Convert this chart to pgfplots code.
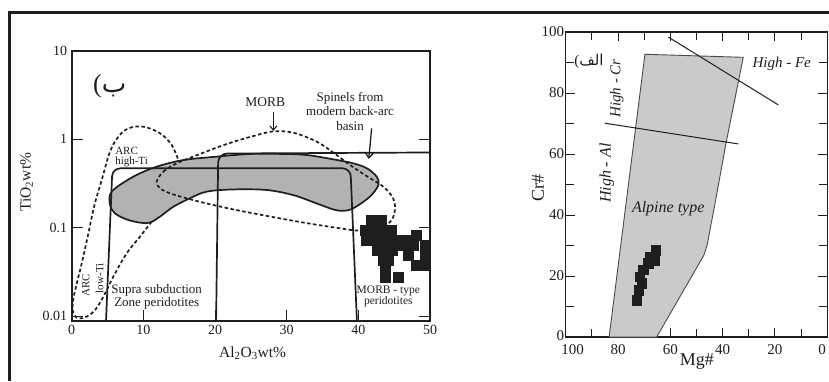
\documentclass[border=0pt]{standalone}
\usepackage{pgfplots}
\pgfplotsset{compat=1.18}
\usepackage{fontspec}
\setmainfont{Liberation Serif}
\newfontfamily\arabicfont[Script=Arabic]{DejaVu Sans}
\usetikzlibrary{arrows.meta}
\TeXXeTstate=1
\definecolor{lgray}{RGB}{178,178,178}
\definecolor{rgray}{RGB}{202,202,202}
\definecolor{ink}{RGB}{30,30,30}
\newcommand{\fs}[2]{\fontsize{#1}{#2}\selectfont}
\begin{document}
\begin{tikzpicture}[x=1pt,y=1pt]
\path[use as bounding box] (0,0) rectangle (829,381);
\draw[ink, line width=3pt] (8,368) -- (829,368);
\draw[ink, line width=3pt] (9.5,369.5) -- (9.5,0);

% ---------------- left panel ----------------
\begin{axis}[
  at={(71.7pt,60.3pt)}, anchor=south west, scale only axis,
  width=358.3pt, height=269.7pt,
  ymode=log, xmin=0, xmax=50, ymin=0.00885, ymax=10,
  xtick={0,10,...,50}, ytick={0.01,0.1,1,10}, yticklabels={0.01,0.1,1,10},
  yminorticks=false, xtick pos=left,
  tick align=inside, major tick length=11pt,
  axis line style={ink, line width=1.8pt},
  tick style={ink, line width=1pt},
  /pgf/number format/assume math mode=true,
  tick label style={font=\fs{14}{14}, text=ink},
  yticklabel style={xshift=-1pt},
  xticklabel style={yshift=-1pt},
  xlabel={Al\textsubscript{2}O\textsubscript{3}wt\%},
  ylabel={TiO\textsubscript{2}wt\%},
  xlabel style={at={(axis description cs:0.505,-0.12)}, anchor=center, font=\fs{15.5}{15.5}, text=ink},
  ylabel style={at={(axis description cs:-0.1256,0.514)}, anchor=center, font=\fs{15.5}{15.5}, text=ink},
  clip=true,
]
% grey field
\addplot[fill=lgray, draw=ink, line width=1.7pt, smooth cycle, tension=0.55] coordinates {
(5.58,0.256)(8.6,0.378)(11.86,0.49)(15.58,0.583)(20.23,0.637)(24.9,0.683)(29.5,0.683)
(32.8,0.665)(36.5,0.594)(39.3,0.535)(41.2,0.47)(42.56,0.378)(42.8,0.304)(41.6,0.224)
(39.3,0.166)(37.9,0.155)(36.5,0.161)(34.2,0.188)(30.9,0.234)(27.2,0.267)(22.6,0.271)
(18.84,0.256)(16.5,0.215)(14.2,0.173)(12.3,0.133)(10.9,0.114)(9.53,0.114)(7.67,0.124)
(6.05,0.145)(5.35,0.181)
};
% supra-subduction field box
\addplot[ink, line width=1.7pt, rounded corners=8pt] coordinates {
(4.79,0.00885)(5.68,0.47)(38.9,0.47)(39.8,0.00885)};
% second box (top line to the right edge)
\addplot[ink, line width=1.7pt, rounded corners=9pt] coordinates {
(20.15,0.00885)(20.45,0.69)(35,0.70)(50,0.71)};
% ARC field (dashed)
\addplot[ink, line width=1.7pt, dash pattern=on 3.5pt off 2.5pt, smooth, tension=0.6] coordinates {
(11.16,0.117)(9.53,0.0791)(7.67,0.0512)(5.81,0.0279)(4.42,0.01656)(3.26,0.0117)
(2.09,0.00983)(1.07,0.00941)(0.33,0.01026)(0.14,0.0139)(0.6,0.0215)(1.40,0.0394)
(2.33,0.0863)(3.12,0.173)(4.19,0.347)(5.35,0.725)(6.51,1.07)(7.91,1.33)(10.0,1.39)
(12.33,1.17)(13.95,0.863)(14.88,0.583)};
% MORB field (dashed)
\addplot[ink, line width=1.7pt, dash pattern=on 3.5pt off 2.5pt, smooth cycle, tension=0.55] coordinates {
(11.86,0.332)(12.79,0.431)(14.65,0.535)(17.91,0.683)(21.63,0.885)(25.35,1.09)(28.14,1.23)
(30.93,1.19)(34.19,0.942)(36.51,0.707)(38.84,0.512)(41.16,0.384)(43.49,0.291)(44.79,0.220)
(45.12,0.166)(44.65,0.122)(43.02,0.0982)(40.23,0.0924)(36.51,0.101)(31.86,0.116)
(27.21,0.136)(22.56,0.161)(18.84,0.188)(16.05,0.215)(13.72,0.245)(12.33,0.279)};
% samples
\addplot[only marks, mark=square*, mark size=5pt, ink] coordinates {
(41.86,0.122)(43.25,0.122)
(40.92,0.0942)(42.32,0.0942)(43.72,0.0942)(44.65,0.0942)
(41.16,0.0726)(42.56,0.0726)(43.95,0.0726)(45.11,0.0726)(46.51,0.0726)
(42.7,0.0559)(44.0,0.0559)(44.7,0.0559)
(43.4,0.0431)(44.1,0.0431)
(43.7,0.0332)
(43.7,0.0274)(45.57,0.0274)
(48.14,0.0827)
(46.27,0.0637)(47.67,0.0637)(49.30,0.0637)
(46.97,0.0491)(49.30,0.0491)
(48.14,0.0378)(49.30,0.0378)};
% arrows
\addplot[ink, line width=1.1pt, -{Straight Barb[length=4pt,width=7pt]}] coordinates {(28.14,2.05)(28.14,1.25)};
\addplot[ink, line width=1.3pt, -{Straight Barb[length=5pt,width=8pt]}] coordinates {(41.86,1.33)(41.45,0.6)};
% texts
\node[font=\fs{13.5}{14}, text=ink] at (axis cs:27.0,2.67) {MORB};
\node[font=\fs{13}{14.5}, text=ink, align=center] at (axis cs:38.84,2.09) {Spinels from\\modern back-arc\\basin};
\node[font=\fs{13}{13.3}, text=ink, align=center] at (axis cs:11.86,0.0166) {Supra subduction\\Zone peridotites};
\node[font=\fs{11.5}{11.5}, text=ink, align=center] at (axis cs:44.19,0.0166) {MORB - type\\peridotites};
\node[font=\fs{11}{10.5}, text=ink, align=left, anchor=west, inner sep=0pt] at (axis cs:6.05,0.631) {ARC\\high-Ti};
\node[font=\fs{11}{10}, text=ink, rotate=90] at (axis cs:1.95,0.0224) {ARC};
\node[font=\fs{11}{10}, text=ink, rotate=90] at (axis cs:3.9,0.0267) {low-Ti};
\node[font=\fs{26}{26}, text=ink] at (axis cs:5.3,4.0) {({\arabicfont ب}};
\end{axis}

% ---------------- right panel ----------------
\begin{axis}[
  at={(565.7pt,44pt)}, anchor=south west, scale only axis,
  width=261.5pt, height=305pt,
  x dir=reverse, xmin=0, xmax=100, ymin=0, ymax=100,
  xtick={0,20,...,100}, xticklabels={{0\hspace*{10pt}},20,40,60,80,{\hspace*{14pt}100}},
  ytick={0,20,...,100}, yticklabels={{\raisebox{3pt}{0}},20,40,60,80,100},
  minor tick num=1,
  tick align=inside, major tick length=9pt, minor tick length=8pt,
  axis line style={ink, line width=1.4pt},
  tick style={ink, line width=0.9pt},
  /pgf/number format/assume math mode=true,
  tick label style={font=\fs{15}{15}, text=ink},
  yticklabel style={xshift=2pt},
  xticklabel style={yshift=-4pt},
  xlabel={Mg\#}, ylabel={Cr\#},
  xlabel style={at={(axis description cs:0.502,-0.08)}, anchor=center, font=\fs{18}{18}, text=ink},
  ylabel style={at={(axis description cs:-0.106,0.49)}, anchor=center, font=\fs{18}{18}, text=ink},
]
\addplot[fill=rgray, draw=ink!80, line width=0.9pt] coordinates {
(83.4,0)(69.7,92.7)(32.1,91.7)(38.7,63.5)(42.9,43.8)(45.9,30.2)(47.1,26.9)(65.2,0)} -- cycle;
\addplot[ink, line width=1pt] coordinates {(60.7,98.3)(18.7,76.1)};
\addplot[ink, line width=1pt] coordinates {(85.0,70.1)(34.0,63.3)};
\addplot[only marks, mark=square*, mark size=4.7pt, ink] coordinates {
(65.6,28.4)(65.9,25.2)(67.8,26.2)(68.4,24.2)(70.3,22.0)(71.6,19.8)(70.9,17.6)(72.2,15.4)(72.8,12.1)};
\node[font=\itshape\fs{15}{15}, text=ink] at (axis cs:17.4,89.7) {High - Fe};
\node[font=\itshape\fs{15}{15}, text=ink, rotate=90] at (axis cs:80.5,81.5) {High - Cr};
\node[font=\itshape\fs{16}{16}, text=ink, rotate=90] at (axis cs:84.3,53.7) {High - Al};
\node[font=\itshape\fs{16}{16}, text=ink] at (axis cs:60.8,42.2) {Alpine type};
\node[font=\fs{15}{15}, text=ink] at (axis cs:91.1,90.5) {({\arabicfont\beginR الف\endR}};
\end{axis}
\end{tikzpicture}
\end{document}
